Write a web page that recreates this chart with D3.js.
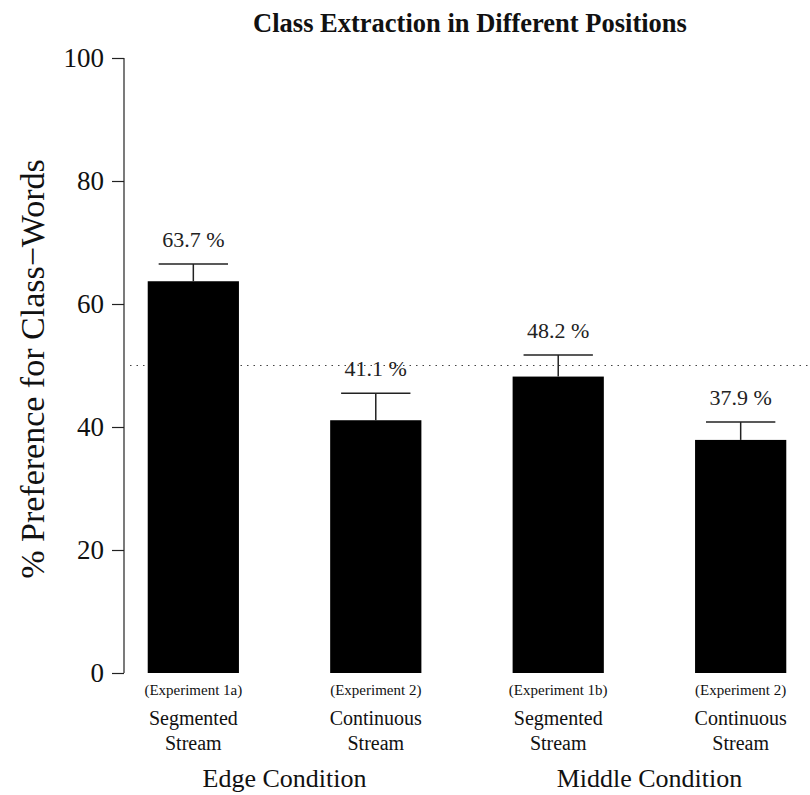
<!DOCTYPE html>
<html>
<head>
<meta charset="utf-8">
<script src="https://cdn.jsdelivr.net/npm/d3@7"></script>
<style>
  body { margin: 0; background: #fff; }
</style>
</head>
<body>
<div id="chart"></div>
<script>
// Chart data
var experiments = ["(Experiment 1a)", "(Experiment 2)", "(Experiment 1b)", "(Experiment 2)"];
var streamLine1 = ["Segmented", "Continuous", "Segmented", "Continuous"];
var streamLine2 = ["Stream", "Stream", "Stream", "Stream"];
var preference = [63.7, 41.1, 48.2, 37.9];
var stdError = [2.8, 4.4, 3.5, 2.9];
var conditions = ["Edge Condition", "Middle Condition"];
var yTicks = [0, 20, 40, 60, 80, 100];
var chanceLevel = 50;

var serif = "'Liberation Serif', 'Times New Roman', serif";

var svgWidth = 810;
var svgHeight = 795;
var margin = { top: 58, right: 0, bottom: 122, left: 124 };
var width = svgWidth - margin.left - margin.right;
var height = svgHeight - margin.top - margin.bottom;

var svg = d3.select("#chart")
  .append("svg")
  .attr("width", svgWidth)
  .attr("height", svgHeight)
  .style("font-family", serif);

var chartGroup = svg.append("g")
  .attr("transform", `translate(${margin.left}, ${margin.top})`);

var idx = d3.range(preference.length);

// Scales
var xBand = d3.scaleBand()
  .domain(idx)
  .range([0, width])
  .paddingInner(0.5)
  .paddingOuter(0.13);

var yScale = d3.scaleLinear()
  .domain([0, 100])
  .range([height, 0]);

// Y axis
var leftAxis = d3.axisLeft(yScale)
  .tickValues(yTicks)
  .tickSize(12)
  .tickPadding(8);

var yAxisG = chartGroup.append("g").call(leftAxis);
yAxisG.select(".domain").attr("d", `M0,${yScale(0)}V${yScale(100)}`).attr("stroke", "#222").attr("stroke-width", 1.2);
yAxisG.selectAll(".tick line").attr("stroke", "#222").attr("stroke-width", 1.2);
yAxisG.selectAll(".tick text")
  .style("font-family", serif)
  .style("font-size", "27px")
  .attr("fill", "#111");

// Chance line
chartGroup.append("line")
  .attr("x1", 6)
  .attr("x2", width)
  .attr("y1", yScale(chanceLevel))
  .attr("y2", yScale(chanceLevel))
  .attr("stroke", "#444")
  .attr("stroke-width", 1.2)
  .attr("stroke-dasharray", "1.5,5");

// Bars
chartGroup.selectAll("rect.bar")
  .data(idx)
  .enter()
  .append("rect")
  .attr("class", "bar")
  .attr("x", i => xBand(i))
  .attr("y", i => yScale(preference[i]))
  .attr("width", xBand.bandwidth())
  .attr("height", i => height - yScale(preference[i]))
  .attr("fill", "#000");

// Error bars
var capHalf = xBand.bandwidth() * 0.38;
var errG = chartGroup.selectAll("g.err")
  .data(idx)
  .enter()
  .append("g")
  .attr("class", "err")
  .attr("stroke", "#222")
  .attr("stroke-width", 1.5);

errG.append("line")
  .attr("x1", i => xBand(i) + xBand.bandwidth() / 2)
  .attr("x2", i => xBand(i) + xBand.bandwidth() / 2)
  .attr("y1", i => yScale(preference[i]))
  .attr("y2", i => yScale(preference[i] + stdError[i]));

errG.append("line")
  .attr("x1", i => xBand(i) + xBand.bandwidth() / 2 - capHalf)
  .attr("x2", i => xBand(i) + xBand.bandwidth() / 2 + capHalf)
  .attr("y1", i => yScale(preference[i] + stdError[i]))
  .attr("y2", i => yScale(preference[i] + stdError[i]));

// Value labels
chartGroup.selectAll("text.value")
  .data(idx)
  .enter()
  .append("text")
  .attr("class", "value")
  .attr("x", i => xBand(i) + xBand.bandwidth() / 2)
  .attr("y", i => yScale(preference[i] + stdError[i]) - 17)
  .attr("text-anchor", "middle")
  .style("font-size", "22px")
  .attr("fill", "#222")
  .text(i => preference[i].toFixed(1) + " %");

// Category labels
var catG = chartGroup.selectAll("g.cat")
  .data(idx)
  .enter()
  .append("g")
  .attr("class", "cat")
  .attr("transform", i => `translate(${xBand(i) + xBand.bandwidth() / 2}, ${height})`);

catG.append("text")
  .attr("y", 22)
  .attr("text-anchor", "middle")
  .style("font-size", "15px")
  .attr("fill", "#111")
  .text(i => experiments[i]);

catG.append("text")
  .attr("y", 52)
  .attr("text-anchor", "middle")
  .style("font-size", "20px")
  .attr("fill", "#111")
  .text(i => streamLine1[i]);

catG.append("text")
  .attr("y", 77)
  .attr("text-anchor", "middle")
  .style("font-size", "20px")
  .attr("fill", "#111")
  .text(i => streamLine2[i]);

// Condition labels
chartGroup.selectAll("text.cond")
  .data(conditions)
  .enter()
  .append("text")
  .attr("class", "cond")
  .attr("x", (d, k) => (xBand(2 * k) + xBand(2 * k + 1) + xBand.bandwidth()) / 2)
  .attr("y", height + 114)
  .attr("text-anchor", "middle")
  .style("font-size", "26px")
  .attr("fill", "#111")
  .text(d => d);

// Axis title
chartGroup.append("text")
  .attr("transform", "rotate(-90)")
  .attr("x", 0 - (369 - margin.top))
  .attr("y", 0 - margin.left + 44)
  .attr("text-anchor", "middle")
  .style("font-size", "34px")
  .attr("fill", "#111")
  .text("% Preference for Class\u2212Words");

// Title
svg.append("text")
  .attr("x", 470)
  .attr("y", 32)
  .attr("text-anchor", "middle")
  .style("font-size", "26.5px")
  .style("font-weight", "bold")
  .attr("fill", "#111")
  .text("Class Extraction in Different Positions");
</script>
</body>
</html>
